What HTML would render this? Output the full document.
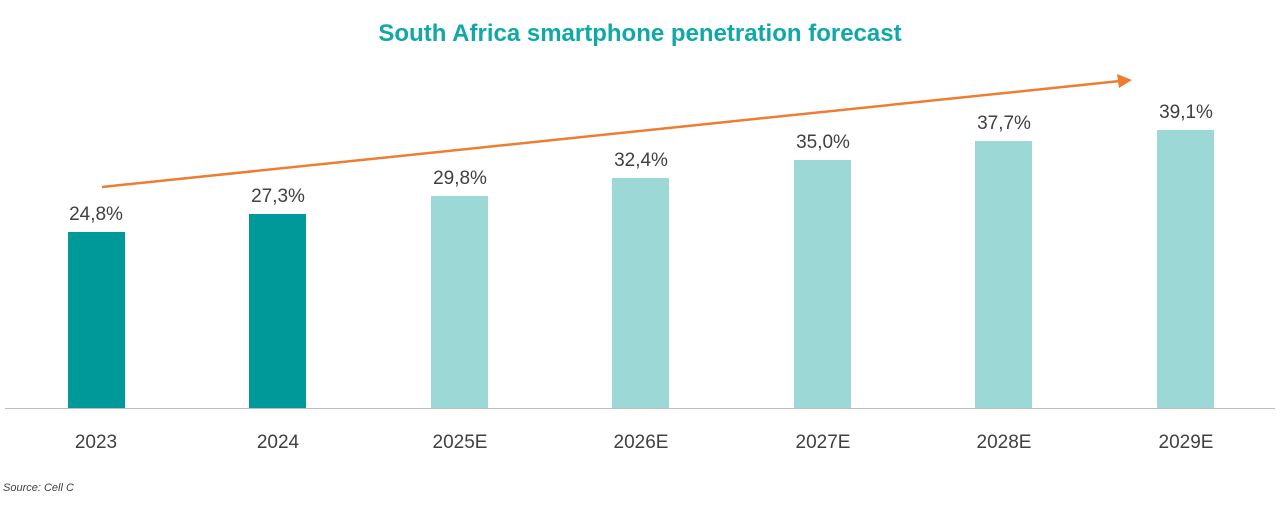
<!DOCTYPE html>
<html><head><meta charset="utf-8"><style>
body{margin:0;background:#fff;width:1280px;height:520px;overflow:hidden}
</style></head><body>
<svg width="1280" height="520" xmlns="http://www.w3.org/2000/svg" font-family="Liberation Sans, sans-serif">
<text x="640" y="41" text-anchor="middle" font-size="24" font-weight="bold" fill="#10A8A8">South Africa smartphone penetration forecast</text>
<line x1="5" y1="408.5" x2="1275" y2="408.5" stroke="#bfbfbf" stroke-width="1"/>
<g fill="#009999">
<rect x="68" y="232" width="57" height="176"/>
<rect x="249" y="214" width="57" height="194"/>
</g>
<g fill="#9CD8D6">
<rect x="431" y="196" width="57" height="212"/>
<rect x="612" y="178" width="57" height="230"/>
<rect x="794" y="160" width="57" height="248"/>
<rect x="975" y="141" width="57" height="267"/>
<rect x="1157" y="130" width="57" height="278"/>
</g>
<g font-size="19" fill="#404040" text-anchor="middle">
<text x="96" y="220">24,8%</text>
<text x="278" y="202">27,3%</text>
<text x="460" y="184">29,8%</text>
<text x="641" y="166">32,4%</text>
<text x="823" y="148">35,0%</text>
<text x="1004" y="129">37,7%</text>
<text x="1186" y="118">39,1%</text>
<text x="96" y="448">2023</text>
<text x="278" y="448">2024</text>
<text x="460" y="448">2025E</text>
<text x="641" y="448">2026E</text>
<text x="823" y="448">2027E</text>
<text x="1004" y="448">2028E</text>
<text x="1186" y="448">2029E</text>
</g>
<line x1="102" y1="187" x2="1120" y2="81" stroke="#ED7D31" stroke-width="2.5"/>
<polygon points="1132,80 1117,74 1119,88" fill="#ED7D31"/>
<text x="3" y="491" font-size="11" font-style="italic" fill="#404040">Source: Cell C</text>
</svg>
</body></html>
